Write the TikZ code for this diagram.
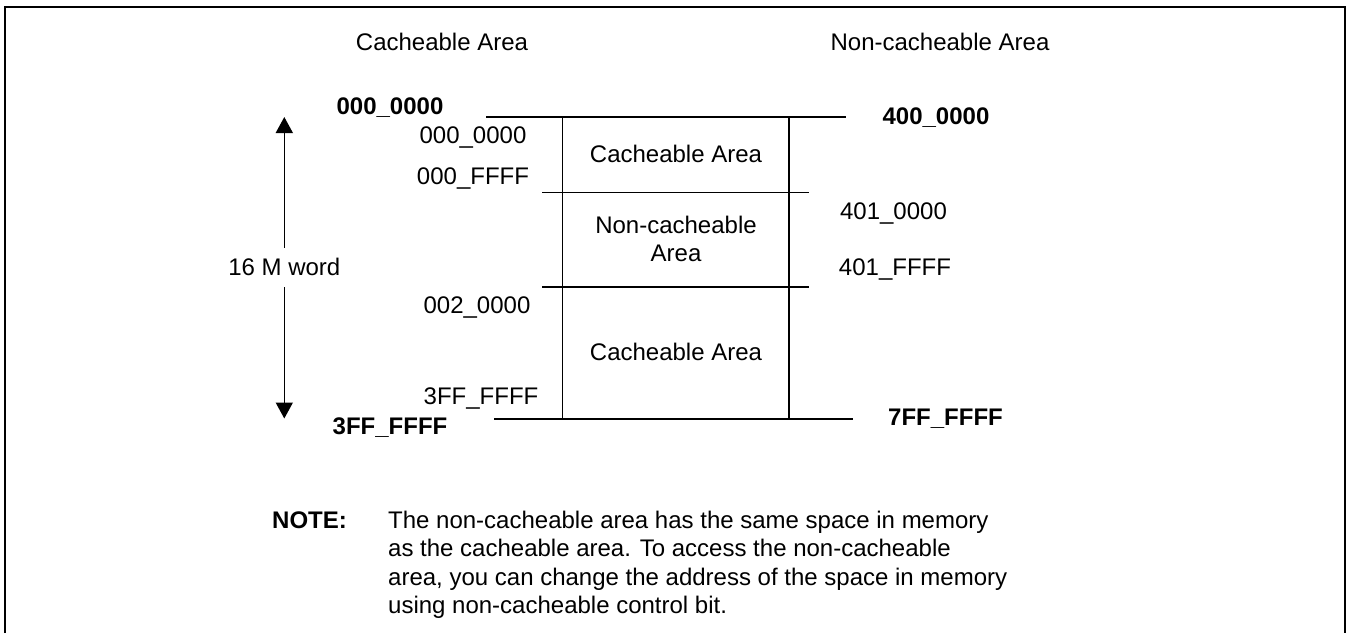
\documentclass[tikz,border=0pt]{standalone}
\usepackage{fontspec}
\setmainfont{Liberation Sans}
\usetikzlibrary{arrows.meta}
\begin{document}
\begin{tikzpicture}[x=1pt,y=-1pt,
  txt/.style={inner sep=0pt,anchor=base,font=\fontsize{24}{28.5}\selectfont},
  btxt/.style={txt,font=\fontsize{24}{28.5}\selectfont\bfseries},
  mapline/.style={line width=1.6pt},
  dimarrow/.style={line width=1.6pt,-{Triangle[width=17pt,length=16pt]}},
  frameline/.style={line width=2pt}]
\useasboundingbox (0,0) rectangle (1347,633);
% frame (open at bottom)
\draw[frameline] (5,633) -- (5,7) -- (1345,7) -- (1345,633);
% titles
\node[txt] (tc) at (442,50) {Cacheable Area};
\node[txt] (tn) at (940,50) {Non-cacheable Area};
% memory map
\draw[mapline] (486,117) -- (846,117);
\draw[mapline] (542,192.5) -- (809,192.5);
\draw[mapline] (542,286.7) -- (809,286.7);
\draw[mapline] (494,419) -- (853,419);
\draw[mapline] (562.5,117) -- (562.5,419);
\draw[mapline] (788.7,117) -- (788.7,419);
% box texts
\node[txt] (c1) at (676,162.5) {Cacheable Area};
\node[txt,align=center] (n1) at (676,261.5) {Non-cacheable\\Area};
\node[txt] (c2) at (676,360.5) {Cacheable Area};
% left labels
\node[btxt] (b0) at (390,114.5) {000\_0000};
\node[txt] (l1) at (473,143) {000\_0000};
\node[txt] (l2) at (473,184) {000\_FFFF};
\node[txt] (l3) at (477,313) {002\_0000};
\node[txt] (l4) at (481,404) {3FF\_FFFF};
\node[btxt] (b1) at (390,434) {3FF\_FFFF};
% right labels
\node[btxt] (r0) at (936,124) {400\_0000};
\node[txt] (r1) at (893.5,219) {401\_0000};
\node[txt] (r2) at (895,275) {401\_FFFF};
\node[btxt] (r3) at (945.5,425.5) {7FF\_FFFF};
% size arrow
\node[txt] (sz) at (284.3,275) {16 M word};
\coordinate (atop) at (284.3,117);
\coordinate (abot) at (284.3,418.5);
\draw[dimarrow] ([yshift=9.5pt]sz.north) -- (atop);
\draw[dimarrow] ([yshift=-12pt]sz.south) -- (abot);
% note
\node[btxt,anchor=base west] (nt) at (272,528) {NOTE:};
\node[txt,anchor=base west,align=left] (nb) at (388,613.5) {The non-cacheable area has the same space in memory\\as the cacheable area. To access the non-cacheable\\area, you can change the address of the space in memory\\using non-cacheable control bit.};
\end{tikzpicture}
\end{document}
